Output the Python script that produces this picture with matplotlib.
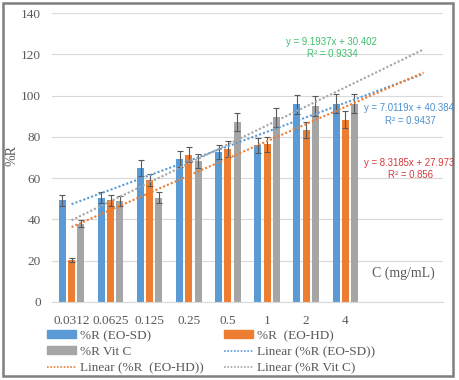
import matplotlib
matplotlib.use("Agg")
import matplotlib.pyplot as plt
import numpy as np
from matplotlib.patches import Rectangle, Patch
from matplotlib.lines import Line2D

categories = ["0.0312", "0.0625", "0.125", "0.25", "0.5", "1", "2", "4"]
sd_vals = [49.2, 50.6, 64.9, 69.4, 72.7, 75.9, 95.8, 96.1]
sd_err = [2.6, 2.5, 3.7, 3.9, 3.4, 3.6, 4.7, 4.7]
hd_vals = [20.4, 49.2, 59.2, 71.4, 74.1, 76.4, 83.3, 88.3]
hd_err = [1.0, 2.7, 3.0, 3.7, 3.7, 3.7, 3.9, 4.1]
vc_vals = [37.9, 49.0, 50.6, 68.3, 87.0, 89.5, 95.0, 96.1]
vc_err = [1.8, 2.3, 2.5, 3.4, 4.4, 4.5, 4.8, 4.7]

# trendline coefficients (slope, intercept) as shown on the chart
sd_fit = [7.0119, 40.384]
hd_fit = [8.3185, 27.973]
vc_fit = [9.1937, 30.402]

c_sd, c_hd, c_vc = "#5B9BD5", "#ED7D31", "#A5A5A5"
serif = ["Liberation Serif", "DejaVu Serif"]
sans = ["Liberation Sans", "DejaVu Sans"]

fig = plt.figure(figsize=(4.59, 3.80), dpi=100)
ax = fig.add_axes([52/459, 1-302/380, (443-52)/459, (302-13)/380])

x = np.arange(len(categories))
w = 0.18
off = 0.235
ekw = dict(ecolor="#595959", elinewidth=0.8, capsize=2, capthick=0.8)
ax.bar(x - off, sd_vals, w, yerr=sd_err, color=c_sd, error_kw=ekw, zorder=2)
ax.bar(x, hd_vals, w, yerr=hd_err, color=c_hd, error_kw=ekw, zorder=2)
ax.bar(x + off, vc_vals, w, yerr=vc_err, color=c_vc, error_kw=ekw, zorder=2)

xt = np.array([0, len(categories) + 1])  # forecast forward 2 periods
for fit, col in [(sd_fit, c_sd), (hd_fit, c_hd), (vc_fit, c_vc)]:
    ax.plot(xt, fit[0] * (xt + 1) + fit[1], color=col, linestyle=(0, (1, 1)),
            linewidth=1.5, zorder=3)

ax.set_xlim(-0.5, 9.5)
ax.set_ylim(0, 140)
ax.set_yticks(np.arange(0, 141, 20))
ax.set_xticks(x)
ax.set_xticklabels(categories)
ax.grid(axis="y", color="#D9D9D9", linewidth=0.8, zorder=0)
ax.set_axisbelow(True)
for s in ["top", "right", "left"]:
    ax.spines[s].set_visible(False)
ax.spines["bottom"].set_color("#D9D9D9")
ax.tick_params(length=0, labelcolor="#595959", labelsize=9.5)
ax.tick_params(axis="y", pad=8)
ax.tick_params(axis="x", pad=9)
for lbl in ax.get_xticklabels() + ax.get_yticklabels():
    lbl.set_family(serif)

fig.text(12/459, 1-155/380, "%R", rotation=90, ha="center", va="center",
         fontsize=10, family=serif, color="#595959")
fig.text(403/459, 1-273/380, "C (mg/mL)", ha="center", va="center",
         fontsize=10, family=serif, color="#595959")

eq_fs = 6.9
fig.text(331/459, 1-42/380, "y = 9.1937x + 30.402", ha="center", va="center",
         fontsize=eq_fs, family=sans, color="#3DBE6B")
fig.text(332/459, 1-54/380, "R² = 0.9334", ha="center", va="center",
         fontsize=eq_fs, family=sans, color="#3DBE6B")
fig.text(409/459, 1-108/380, "y = 7.0119x + 40.384", ha="center", va="center",
         fontsize=eq_fs, family=sans, color="#4A8FD0")
fig.text(410/459, 1-121/380, "R² = 0.9437", ha="center", va="center",
         fontsize=eq_fs, family=sans, color="#4A8FD0")
fig.text(409/459, 1-163/380, "y = 8.3185x + 27.973", ha="center", va="center",
         fontsize=eq_fs, family=sans, color="#D6383B")
fig.text(410/459, 1-175/380, "R² = 0.856", ha="center", va="center",
         fontsize=eq_fs, family=sans, color="#D6383B")

h_sd = Patch(color=c_sd)
h_hd = Patch(color=c_hd)
h_vc = Patch(color=c_vc)
l_sd = Line2D([], [], color=c_sd, linestyle=(0, (1, 1)), linewidth=1.2)
l_hd = Line2D([], [], color=c_hd, linestyle=(0, (1, 1)), linewidth=1.2)
l_vc = Line2D([], [], color=c_vc, linestyle=(0, (1, 1)), linewidth=1.2)
handles = [h_sd, h_vc, l_hd, h_hd, l_sd, l_vc]
labels = ["%R (EO-SD)", "%R Vit C", "Linear (%R  (EO-HD))",
          "%R  (EO-HD)", "Linear (%R (EO-SD))", "Linear (%R Vit C)"]
leg = fig.legend(handles, labels, ncol=2, loc="upper left",
                 bbox_to_anchor=(47/459, 1-330/380), frameon=False,
                 prop={"family": serif, "size": 9.5}, handlelength=2.2,
                 handleheight=0.55, handletextpad=0.3, columnspacing=1.5,
                 labelspacing=0.3, borderpad=0, borderaxespad=0)
for t in leg.get_texts():
    t.set_color("#595959")

fig.patches.append(Rectangle((3/459, 1-376/380), 450/459, 373/380,
                             transform=fig.transFigure, fill=False,
                             edgecolor="#7F7F7F", linewidth=1.8))

fig.savefig("out.png", dpi=100)
